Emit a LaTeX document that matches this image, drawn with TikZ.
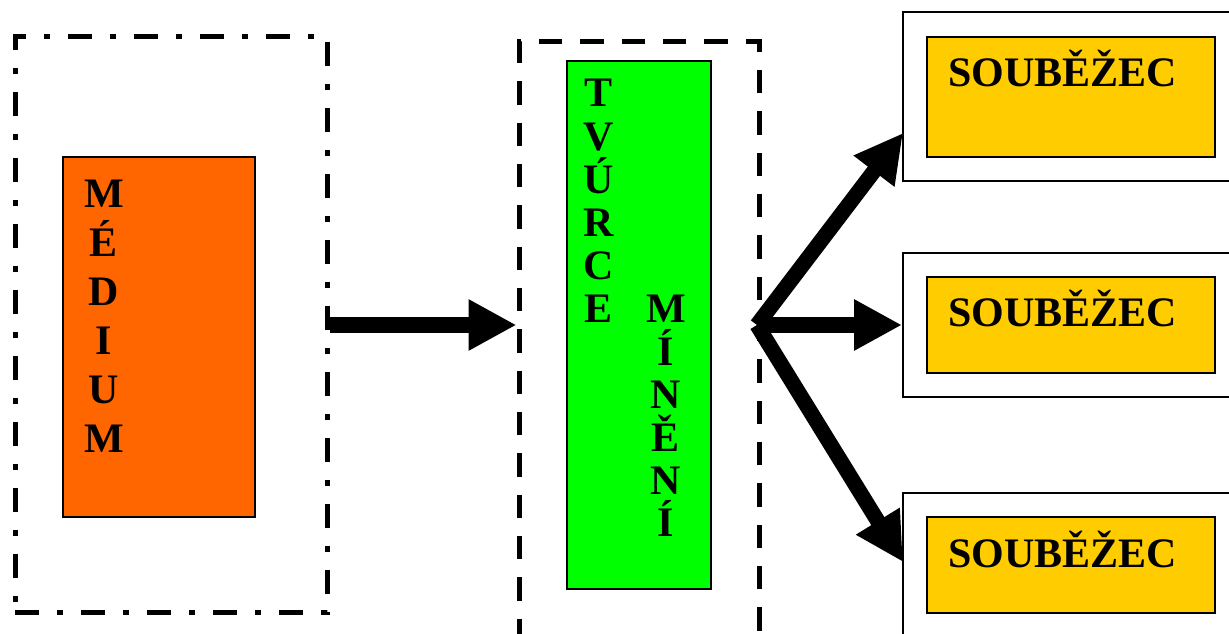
\documentclass[tikz,border=0pt]{standalone}
\usepackage{fontspec}
\setmainfont{Liberation Serif}
\usetikzlibrary{arrows.meta,fit}

\definecolor{mediumorange}{HTML}{FF6600}
\definecolor{creatorgreen}{HTML}{00FF00}
\definecolor{rivalyellow}{HTML}{FFCC00}

\tikzset{
  frame/.style={inner sep=0pt},
  dashdotframe/.style={frame, draw, line width=3.75pt,
    dash pattern=on 18pt off 13.5pt on 4.5pt off 13.5pt},
  dashframe/.style={frame, draw, line width=3.75pt,
    dash pattern=on 17.5pt off 13.5pt},
  colorbox/.style={frame, draw, line width=1.5pt},
  outerbox/.style={frame, draw, line width=1.5pt, fill=white},
  letter/.style={anchor=base, inner sep=0pt,
    font=\fontsize{31.5}{36}\selectfont\bfseries},
  label/.style={anchor=base west, inner sep=0pt,
    font=\fontsize{31.5}{36}\selectfont\bfseries},
  flow/.style={line width=11.5pt,
    -{Triangle[length=36pt,width=36pt]}},
}

\begin{document}
\begin{tikzpicture}[x=0.75pt,y=-0.75pt]
  \useasboundingbox (0,0) rectangle (1229,634);
  \clip (0,0) rectangle (1229,634);

  % medium
  \node[dashdotframe, fit={(15,37) (327,612)}] (medframe) {};
  \node[colorbox, fill=mediumorange, fit={(63,157) (255,517)}] (medbox) {};
  \foreach \ch [count=\i] in {M,É,D,I,U,M}
    \node[letter] (med\i) at (104,{208+(\i-1)*49}) {\ch};

  % opinion maker
  \node[dashframe, fit={(519,42) (759,680)}] (tvframe) {};
  \node[colorbox, fill=creatorgreen, fit={(567,61) (711,589)}] (tvbox) {};
  \foreach \ch [count=\i] in {T,V,Ú,R,C,E}
    \node[letter] (tv\i) at (599,{107+(\i-1)*43.2}) {\ch};
  \foreach \ch [count=\i] in {M,Í,N,Ě,N,Í}
    \node[letter] (mn\i) at (666,{323+(\i-1)*42.8}) {\ch};

  % rivals
  \foreach \i/\top/\bot/\itop/\ibot/\base in
      {1/12/181/37/157/87, 2/253/397/277/373/327, 3/493/700/517/613/568} {
    \node[outerbox, fit={(903,\top) (1231,\bot)}] (out\i) {};
    \node[colorbox, fill=rivalyellow, fit={(927,\itop) (1215,\ibot)}] (in\i) {};
    \node[label] (lab\i) at (948,\base) {SOUBĚŽEC};
  }

  % connectors
  \coordinate (split) at (757,325);
  \coordinate (tip1) at (903,133);
  \coordinate (tip3) at (903,562);
  \draw[flow] (medframe.east |- split) -- (tvframe.west |- split);
  \draw[flow] (split) -- (tip1);
  \draw[flow] (split) -- (out2.west |- split);
  \draw[flow] (split) -- (tip3);
\end{tikzpicture}
\end{document}
